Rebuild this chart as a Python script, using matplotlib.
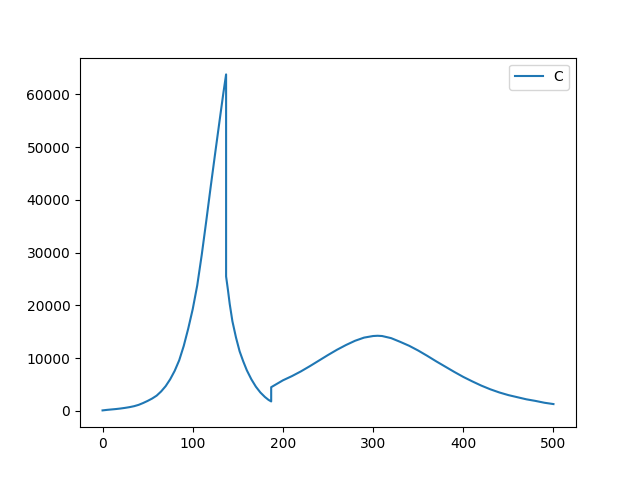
import matplotlib
matplotlib.use("Agg")
import matplotlib.pyplot as plt

# values (duplicate x = jump)
t = [0, 5, 10, 15, 20, 25, 30, 35, 40, 45, 50, 55, 60, 65, 70, 75, 80, 85, 90, 95,
     100, 105, 110, 115, 120, 125, 130, 134, 137,
     137, 139, 141, 144, 148, 152, 156, 160, 165, 170, 175, 180, 184, 187,
     187, 195, 200, 210, 220, 230, 240, 250, 260, 270, 280, 290, 300, 305,
     310, 320, 330, 340, 350, 360, 370, 380, 390, 400, 410, 420, 430, 440,
     450, 460, 470, 480, 490, 500]
C = [100, 200, 280, 360, 460, 580, 720, 900, 1150, 1500, 1900, 2350, 2900, 3700, 4700, 6000, 7600, 9600, 12300, 15600,
     19300, 23800, 29600, 36000, 42600, 49000, 55300, 60300, 63800,
     25500, 23000, 20300, 17000, 13900, 11300, 9400, 7700, 6000, 4600, 3500, 2650, 2100, 1800,
     4500, 5300, 5800, 6600, 7500, 8500, 9550, 10600, 11600, 12500, 13300, 13900, 14200, 14250,
     14200, 13800, 13100, 12350, 11450, 10450, 9400, 8400, 7400, 6450, 5600, 4800, 4100, 3500,
     3000, 2600, 2200, 1900, 1550, 1300]

fig, ax = plt.subplots(figsize=(6.4, 4.8), dpi=100)
ax.plot(t, C, label="C")
ax.legend()
fig.savefig("out.png")
